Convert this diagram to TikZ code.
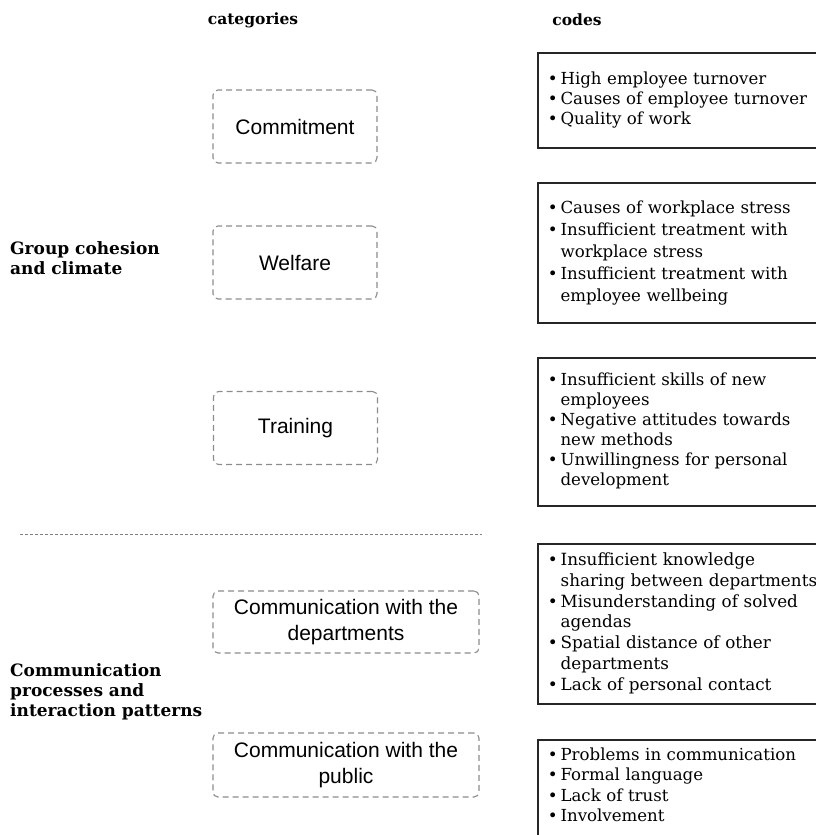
\documentclass[tikz,border=0pt]{standalone}
\usepackage{fontspec}
\setmainfont{DejaVu Serif}
\setsansfont{Liberation Sans}

\newcommand{\codelist}[1]{\begin{tabular}{@{}l@{\hspace{3pt}}l@{}}#1\end{tabular}}

\begin{document}
\begin{tikzpicture}[x=1pt,y=-1pt]
\tikzstyle{cat}=[draw=black!45, line width=1.1pt, dash pattern=on 6pt off 4pt, rounded corners=5pt, font=\sffamily\fontsize{21}{26}\selectfont, align=center, minimum width=164pt, minimum height=73pt]
\tikzstyle{codes}=[draw=black!85, line width=1.5pt, anchor=north west, text width=280pt, inner xsep=10pt, font=\fontsize{16.6}{20}\selectfont]
\tikzstyle{head}=[font=\bfseries\fontsize{15.5}{19}\selectfont]
\tikzstyle{theme}=[anchor=west, align=left, inner sep=0pt, font=\bfseries\fontsize{17}{20}\selectfont]
\tikzstyle{sep}=[draw=black!50, line width=1pt, dash pattern=on 3pt off 2pt]
  \useasboundingbox (0,0) rectangle (816,835);
  \clip (0,0) rectangle (816,835);

  \node[head] (categories) at (253,20) {categories};
  \node[head] (codes) at (577,20) {codes};

  \node[cat] (commit) at (295,126.5) {Commitment};
  \node[cat] (welfare) at (295,262.5) {Welfare};
  \node[cat] (training) at (295.5,428) {Training};
  \node[cat, minimum width=266pt, minimum height=62pt] (commdep) at (346,622) {Communication with the\\departments};
  \node[cat, minimum width=266pt, minimum height=64pt] (commpub) at (346,765) {Communication with the\\public};

  \node[codes, minimum height=95pt] (commitcodes) at (537,52) {\codelist{
    • & High employee turnover\\
    • & Causes of employee turnover\\
    • & Quality of work}};
  \node[codes, minimum height=140pt, font=\fontsize{16.6}{22}\selectfont] (welfarecodes) at (537,182) {\codelist{
    • & Causes of workplace stress\\
    • & Insufficient treatment with\\
      & workplace stress\\
    • & Insufficient treatment with\\
      & employee wellbeing}};
  \node[codes, minimum height=148pt] (trainingcodes) at (537,357) {\codelist{
    • & Insufficient skills of new\\
      & employees\\
    • & Negative attitudes towards\\
      & new methods\\
    • & Unwillingness for personal\\
      & development}};
  \node[codes, minimum height=160pt, font=\fontsize{16.8}{20.8}\selectfont] (depcodes) at (537,543) {\codelist{
    • & Insufficient knowledge\\
      & sharing between departments\\
    • & Misunderstanding of solved\\
      & agendas\\
    • & Spatial distance of other\\
      & departments\\
    • & Lack of personal contact}};
  \node[codes, inner ysep=6pt, font=\fontsize{16.6}{20.6}\selectfont] (pubcodes) at (537,739) {\codelist{
    • & Problems in communication\\
    • & Formal language\\
    • & Lack of trust\\
    • & Involvement\\[20pt]}};

  \node[theme] (cohesion) at (10,258) {Group cohesion\\and climate};
  \node[theme] (communication) at (10,692) {Communication\\processes and\\interaction patterns};

  \coordinate (sepL) at (20,534);
  \coordinate (sepR) at (482,534);
  \draw[sep] (sepL) -- (sepR);
\end{tikzpicture}
\end{document}
